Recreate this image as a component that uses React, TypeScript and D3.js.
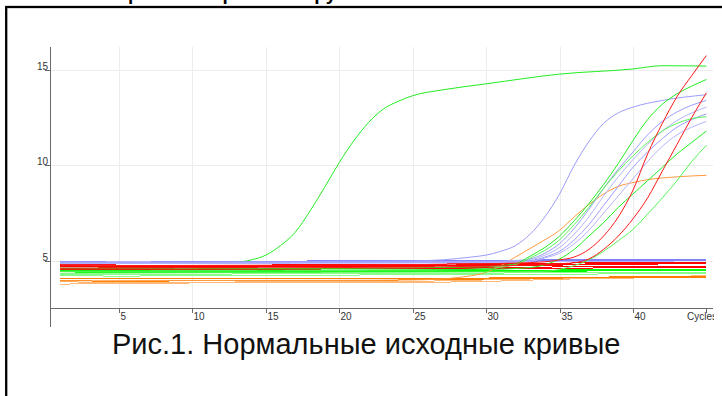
import React from "react";
import * as d3 from "d3";

const xTicks = [5, 10, 15, 20, 25, 30, 35, 40];
const yTicks = [5, 10, 15];
const flatCycles = [1, 5, 10, 15, 20, 25, 30, 35, 40, 45];

// flat (non-amplified) samples, values at flatCycles
const blueFlat = [
  [4.97, 4.93, 4.95, 4.98, 5.0, 5.02, 5.03, 5.05, 5.07, 5.07],
  [4.93, 4.9, 4.92, 4.95, 4.97, 4.98, 5.0, 5.02, 5.05, 5.06],
  [4.9, 4.88, 4.87, 4.9, 4.93, 4.96, 4.97, 5.0, 5.02, 5.03],
];
const lightBlueFlat = [
  [4.86, 4.84, 4.86, 4.88, 4.9, 4.9, 4.93, 4.95, 4.98, 5.0],
];
const redFlat = [
  [4.81, 4.78, 4.77, 4.78, 4.8, 4.82, 4.85, 4.88, 4.92, 4.93],
  [4.74, 4.72, 4.71, 4.73, 4.75, 4.77, 4.79, 4.82, 4.86, 4.9],
  [4.69, 4.67, 4.65, 4.68, 4.7, 4.72, 4.75, 4.78, 4.82, 4.86],
  [4.6, 4.58, 4.57, 4.6, 4.62, 4.62, 4.65, 4.68, 4.7, 4.72],
  [4.54, 4.52, 4.55, 4.55, 4.58, 4.58, 4.6, 4.62, 4.63, 4.64],
];
const greenFlat = [
  [4.5, 4.48, 4.45, 4.47, 4.46, 4.48, 4.5, 4.52, 4.55, 4.55],
  [4.46, 4.44, 4.42, 4.43, 4.44, 4.46, 4.47, 4.49, 4.51, 4.52],
  [4.42, 4.4, 4.38, 4.4, 4.42, 4.44, 4.45, 4.46, 4.48, 4.48],
];
const lightGreenFlat = [
  [4.3, 4.28, 4.3, 4.32, 4.33, 4.35, 4.36, 4.37, 4.37, 4.38],
  [4.22, 4.2, 4.22, 4.24, 4.25, 4.28, 4.3, 4.3, 4.32, 4.33],
];
const orangeFlat = [
  [4.08, 4.05, 4.05, 4.06, 4.08, 4.08, 4.1, 4.12, 4.17, 4.17],
  [3.96, 3.93, 3.95, 3.97, 3.98, 4.0, 4.05, 4.1, 4.12, 4.11],
];
const lightOrangeFlat = [
  [3.9, 3.87, 3.88, 3.9, 3.9, 3.92, 4.0, 4.08, 4.15, 4.22],
  [3.78, 3.82, 3.84, 3.85, 3.85, 3.86, 3.92, 4.04, 4.1, 4.2],
];

// amplified samples: [cycle, fluorescence]
const earlyGreen = [
  [1, 4.87], [5, 4.86], [10, 4.88], [13, 4.93], [14, 5.05], [15, 5.3], [16, 5.8],
  [17, 6.5], [18, 7.6], [19, 8.85], [20, 10.15], [21, 11.3], [22, 12.25], [23, 12.95],
  [24, 13.35], [25, 13.65], [27, 13.95], [30, 14.27], [35, 14.78], [40, 15.05],
  [42, 15.22], [45, 15.2],
];
const earlyBlue = [
  [1, 4.95], [10, 4.93], [20, 4.98], [25, 5.0], [27, 5.05], [29, 5.2], [30, 5.3],
  [31, 5.5], [32, 5.8], [33, 6.4], [34, 7.3], [35, 8.5], [36, 10.0], [37, 11.25],
  [38, 12.2], [39, 12.75], [40, 13.05], [42, 13.4], [45, 13.7],
];
const orangeAmp = [
  [1, 3.95], [10, 3.97], [20, 3.98], [25, 4.0], [27, 4.05], [28, 4.12], [29, 4.22],
  [30, 4.4], [31, 4.75], [32, 5.2], [33, 5.65], [34, 6.1], [35, 6.6], [36, 7.3],
  [37, 7.95], [38, 8.5], [39, 8.9], [40, 9.1], [41, 9.25], [43, 9.4], [45, 9.48],
];
const greenLate = [
  [[1, 4.62], [15, 4.6], [25, 4.64], [30, 4.7], [32, 4.85], [33, 5.25], [34, 5.7], [35, 6.3],
   [36, 7.1], [37, 8.0], [38, 9.0], [39, 10.1], [40, 11.3], [41, 12.4], [42, 13.2],
   [43, 13.75], [44, 14.15], [45, 14.5]],
  [[1, 4.45], [15, 4.47], [25, 4.5], [30, 4.6], [32, 4.8], [33, 5.15], [34, 5.55], [35, 6.1],
   [36, 6.9], [37, 7.8], [38, 8.8], [39, 9.7], [40, 10.5], [41, 11.2], [42, 11.8],
   [43, 12.2], [44, 12.45], [45, 12.55]],
  [[1, 4.5], [20, 4.52], [30, 4.55], [33, 4.65], [34, 4.8], [35, 5.1], [36, 5.6], [37, 6.3],
   [38, 7.0], [39, 7.8], [40, 8.5], [41, 9.2], [42, 9.9], [43, 10.6], [44, 11.2], [45, 11.8]],
  [[1, 4.35], [20, 4.4], [30, 4.42], [34, 4.45], [35, 4.55], [36, 4.75], [37, 5.05], [38, 5.5],
   [39, 6.05], [40, 6.65], [41, 7.45], [42, 8.3], [43, 9.2], [44, 10.2], [45, 11.05]],
];
const blueLate = [
  [[1, 4.93], [20, 4.95], [30, 4.98], [32, 5.02], [33, 5.1], [34, 5.4], [35, 5.9], [36, 6.7],
   [37, 7.7], [38, 8.8], [39, 9.8], [40, 10.7], [41, 11.6], [42, 12.3], [43, 12.8],
   [44, 13.15], [45, 13.4]],
  [[1, 4.9], [20, 4.92], [30, 4.95], [32, 5.0], [33, 5.05], [34, 5.3], [35, 5.7], [36, 6.4],
   [37, 7.3], [38, 8.4], [39, 9.4], [40, 10.3], [41, 11.1], [42, 11.8], [43, 12.35],
   [44, 12.75], [45, 13.05]],
  [[1, 4.88], [20, 4.9], [30, 4.93], [33, 5.0], [34, 5.2], [35, 5.5], [36, 6.1], [37, 6.9],
   [38, 7.9], [39, 8.9], [40, 9.9], [41, 10.7], [42, 11.4], [43, 12.0], [44, 12.4], [45, 12.7]],
  [[1, 4.85], [20, 4.88], [30, 4.9], [33, 4.98], [34, 5.15], [35, 5.4], [36, 5.9], [37, 6.6],
   [38, 7.5], [39, 8.4], [40, 9.3], [41, 10.2], [42, 11.0], [43, 11.6], [44, 12.0], [45, 12.3]],
];
const redLate = [
  [[1, 4.75], [20, 4.78], [30, 4.85], [34, 4.95], [35, 5.05], [36, 5.2], [37, 5.6], [38, 6.3],
   [39, 7.3], [40, 8.7], [41, 10.6], [42, 12.2], [43, 13.6], [44, 14.7], [45, 15.75]],
  [[1, 4.62], [20, 4.65], [30, 4.72], [35, 4.85], [36, 4.9], [37, 5.1], [38, 5.6], [39, 6.3],
   [40, 7.2], [41, 8.3], [42, 9.7], [43, 11.1], [44, 12.5], [45, 13.8]],
];

const colors = {
  blue: "#8080ff",
  lightBlue: "#b4b4ff",
  red: "#ff0000",
  green: "#00ff00",
  lightGreen: "#88ff88",
  orange: "#ff8000",
  lightOrange: "#ffb878",
  ampGreen: "#22ee22",
  ampBlue: "#9c9cff",
  ampOrange: "#ff9a40",
  ampRed: "#ff1818",
};

const W = 722, H = 396;
const plot = { left: 50, right: 713, top: 47, bottom: 308 };

export default function App() {
  const x = d3.scaleLinear().domain([0.3, 45.45]).range([plot.left, plot.right]);
  const y = d3.scaleLinear().domain([2.53, 16.2]).range([plot.bottom, plot.top]);
  const line = d3.line<number[]>().x(d => x(d[0])).y(d => y(d[1])).curve(d3.curveMonotoneX);
  const flatLine = d3.line<number[]>().x(d => x(d[0])).y(d => y(d[1]));

  const flatGroups: [number[][], string][] = [
    [lightOrangeFlat, colors.lightOrange],
    [orangeFlat, colors.orange],
    [lightGreenFlat, colors.lightGreen],
    [greenFlat, colors.green],
    [lightBlueFlat, colors.lightBlue],
    [blueFlat, colors.blue],
    [redFlat, colors.red],
  ];
  const ampCurves: [number[][], string][] = [
    [earlyGreen, colors.ampGreen],
    [orangeAmp, colors.ampOrange],
    [earlyBlue, colors.ampBlue],
    ...blueLate.map((d, i) => [d, i % 2 ? colors.lightBlue : colors.ampBlue] as [number[][], string]),
    ...greenLate.map((d, i) => [d, i % 2 ? "#55f555" : colors.ampGreen] as [number[][], string]),
    ...redLate.map(d => [d, colors.ampRed] as [number[][], string]),
  ];

  const font = "'Liberation Sans', Arial, sans-serif";

  return (
    <svg width={W} height={H} style={{ position: "absolute", left: 0, top: 0, background: "#fff" }}>
      <defs>
        <clipPath id="plotClip">
          <rect x={plot.left} y={plot.top - 10} width={plot.right - plot.left} height={plot.bottom - plot.top + 10} />
        </clipPath>
        <clipPath id="cycClip">
          <rect x={680} y={305} width={34} height={20} />
        </clipPath>
      </defs>
      {/* title, cut by the page top as in the scan */}
      <text x={82} y={-0.5} fontFamily={font} fontWeight="bold" fontSize={19} fill="#000">
        Изображение кривых в группе
      </text>
      <rect x={6.2} y={7} width={740} height={420} fill="none" stroke="#000" strokeWidth={2.3} />

      {/* grid */}
      {xTicks.map(t => (
        <line key={"gx" + t} x1={Math.round(x(t)) + 0.5} x2={Math.round(x(t)) + 0.5} y1={plot.top} y2={plot.bottom} stroke="#ececec" />
      ))}
      {yTicks.map(t => (
        <line key={"gy" + t} x1={plot.left} x2={plot.right} y1={Math.round(y(t)) + 0.5} y2={Math.round(y(t)) + 0.5} stroke="#ececec" />
      ))}

      <g clipPath="url(#plotClip)" fill="none">
        {flatGroups.map(([rows, c], gi) =>
          rows.map((r, ri) => (
            <path key={`f${gi}-${ri}`} d={flatLine(flatCycles.map((cy, k) => [cy, r[k]])) || ""}
              stroke={c} strokeWidth={1} shapeRendering="crispEdges" />
          ))
        )}
        {ampCurves.map(([pts, c], i) => (
          <path key={"a" + i} d={line(pts) || ""} stroke={c} strokeWidth={1} />
        ))}
      </g>

      {/* axes */}
      <line x1={plot.left + 0.5} x2={plot.left + 0.5} y1={plot.top} y2={327} stroke="#6a6a6a" />
      <line x1={plot.left} x2={plot.right} y1={plot.bottom + 0.5} y2={plot.bottom + 0.5} stroke="#6a6a6a" />
      {yTicks.map(t => (
        <g key={"yt" + t}>
          <line x1={45} x2={plot.left} y1={Math.round(y(t)) + 0.5} y2={Math.round(y(t)) + 0.5} stroke="#6a6a6a" />
          <text x={48} y={Math.round(y(t)) - 0.5} textAnchor="end" fontFamily={font} fontSize={10} fill="#333">{t}</text>
        </g>
      ))}
      {[...xTicks, 45].map(t => (
        <line key={"xt" + t} x1={Math.round(x(t)) + 0.5} x2={Math.round(x(t)) + 0.5} y1={plot.bottom} y2={plot.bottom + 5} stroke="#6a6a6a" />
      ))}
      {xTicks.map(t => (
        <text key={"xl" + t} x={Math.round(x(t)) + 1.5} y={319.5} fontFamily={font} fontSize={10} fill="#333">{t}</text>
      ))}
      <text x={687} y={319.5} fontFamily={font} fontSize={10} fill="#333" clipPath="url(#cycClip)">Cycles</text>

      <text x={112} y={354} fontFamily={font} fontSize={29} fill="#111">Рис.1. Нормальные исходные кривые</text>
    </svg>
  );
}
